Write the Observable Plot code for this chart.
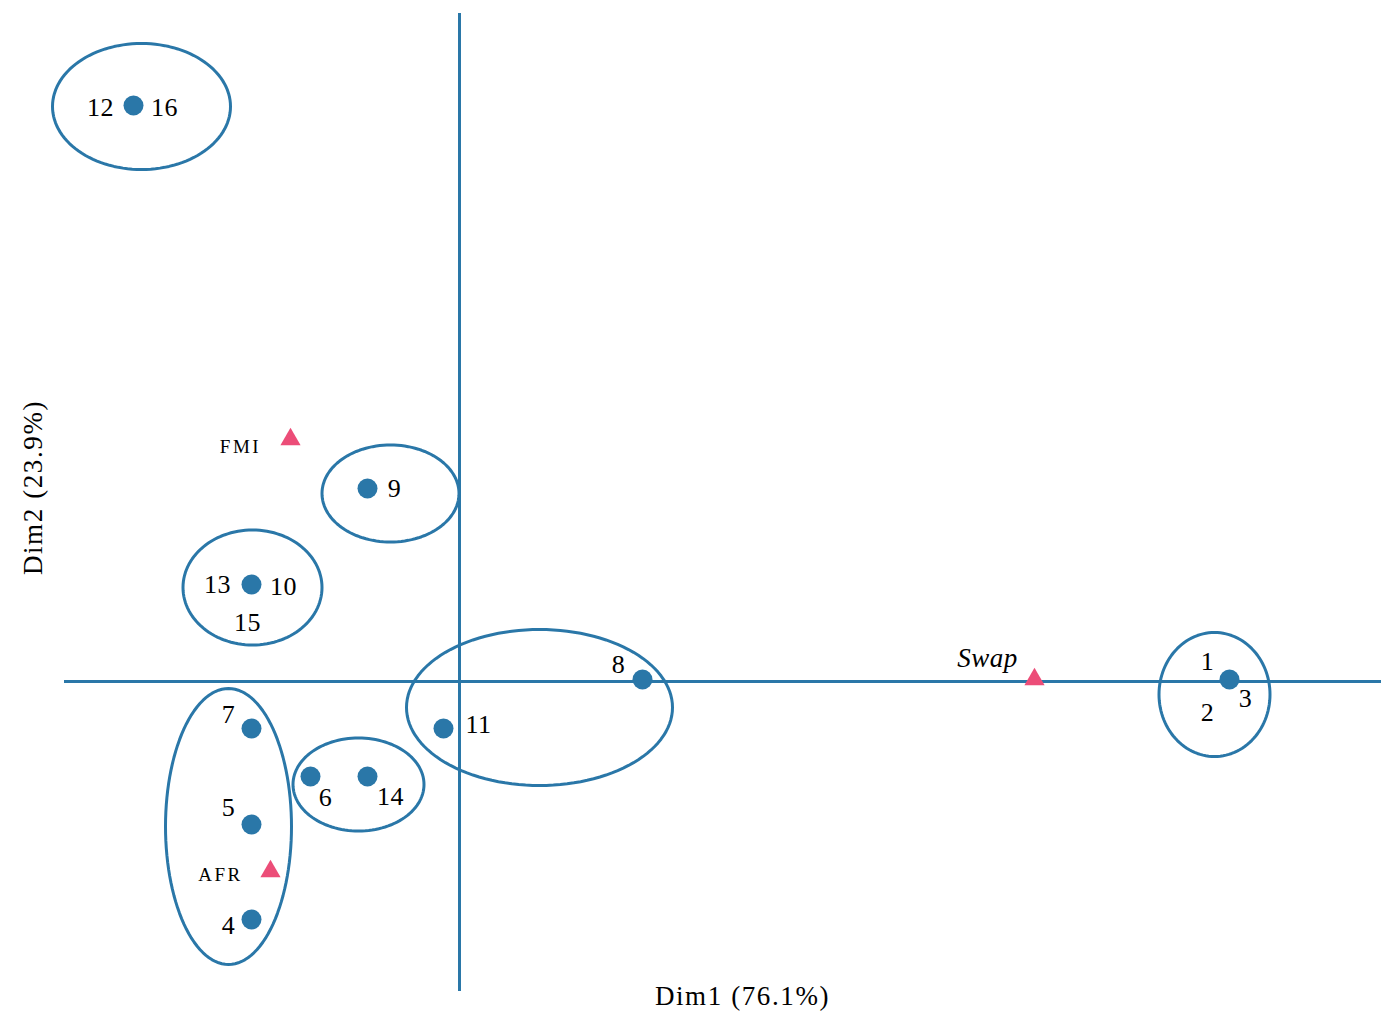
<!DOCTYPE html>
<html>
<head>
<meta charset="utf-8">
<script src="https://cdn.jsdelivr.net/npm/d3@7"></script>
<script src="https://cdn.jsdelivr.net/npm/@observablehq/plot@0.6"></script>
<style>
  html, body { margin: 0; padding: 0; background: #fff; }
  #chart svg { display: block; }
  .axis-title text { letter-spacing: 1.6px; }
  .var-label text { letter-spacing: 2.5px; }
  .obs-label text { letter-spacing: 0.5px; }
</style>
</head>
<body>
<div id="chart"></div>
<script>
// Row points (observations) — coordinates in Dim1 / Dim2 units
const obsNames = ["12/16", "9", "10/13/15", "8", "11", "7", "5", "4", "6", "14", "1/2/3"];
const obsDim1  = [-1.63, -0.46, -1.04, 0.915, -0.08, -1.04, -1.04, -1.04, -0.745, -0.46, 3.85];
const obsDim2  = [2.88, 0.965, 0.485, 0.01, -0.235, -0.235, -0.715, -1.19, -0.475, -0.475, 0.01];

// Column points (variables)
const varNames = ["FMI", "Swap", "AFR"];
const varDim1  = [-0.845, 2.875, -0.945];
const varDim2  = [1.21, 0.01, -0.95];

// Observation labels
const obsLabels  = ["12", "16", "9", "13", "10", "15", "8", "11", "7", "5", "4", "6", "14", "1", "2", "3"];
const obsLabelX  = [-1.795, -1.475, -0.325, -1.21, -0.88, -1.06, 0.795, 0.095, -1.155, -1.155, -1.155, -0.67, -0.345, 3.74, 3.74, 3.93];
const obsLabelY  = [2.87, 2.87, 0.965, 0.485, 0.475, 0.295, 0.085, -0.215, -0.165, -0.63, -1.22, -0.58, -0.575, 0.10, -0.155, -0.085];

// Variable labels
const varLabelX = [-1.095, 2.64, -1.195];
const varLabelY = [1.175, 0.115, -0.965];

// Cluster ellipses: centre and semi-axes in Dim units
const clusterCx = [-1.59, -0.345, -1.035, 0.40, 3.775, -1.155, -0.505];
const clusterCy = [2.875, 0.94, 0.47, -0.13, -0.065, -0.725, -0.515];
const clusterRx = [0.445, 0.3425, 0.3475, 0.665, 0.2775, 0.315, 0.3275];
const clusterRy = [0.315, 0.2425, 0.2875, 0.39, 0.31, 0.69, 0.2325];

// Axis extents and titles
const axisXExtent = [-1.975, 4.61];
const axisYExtent = [-1.55, 3.34];
const xTitle = "Dim1 (76.1%)";
const yTitle = "Dim2 (23.9%)";

const blue = "#2a77a8";
const pink = "#ec4d78";
const font = "'Liberation Serif', 'DejaVu Serif', serif";

const obs = obsNames.map((n, i) => ({name: n, x: obsDim1[i], y: obsDim2[i]}));
const vars = varNames.map((n, i) => ({name: n, x: varDim1[i], y: varDim2[i], lx: varLabelX[i], ly: varLabelY[i]}));
const labels = obsLabels.map((t, i) => ({t, x: obsLabelX[i], y: obsLabelY[i]}));

const ellipsePts = [];
clusterCx.forEach((cx, k) => {
  const N = 120;
  for (let j = 0; j <= N; j++) {
    const a = 2 * Math.PI * j / N;
    ellipsePts.push({k, x: cx + clusterRx[k] * Math.cos(a), y: clusterCy[k] + clusterRy[k] * Math.sin(a)});
  }
});

const W = 1387, H = 1013;
const chart = Plot.plot({
  width: W,
  height: H,
  margin: 0,
  x: {domain: [-2.295, 4.64], axis: null},
  y: {domain: [-1.66, 3.405], axis: null},
  style: {background: "#fff", fontFamily: font},
  marks: [
    Plot.ruleY([0], {x1: axisXExtent[0], x2: axisXExtent[1], stroke: blue, strokeWidth: 3}),
    Plot.ruleX([0], {y1: axisYExtent[0], y2: axisYExtent[1], stroke: blue, strokeWidth: 3}),
    Plot.line(ellipsePts, {x: "x", y: "y", z: "k", stroke: blue, strokeWidth: 3, fill: "none", curve: "linear-closed"}),
    Plot.dot(obs, {x: "x", y: "y", r: 10, fill: blue, stroke: "none"}),
    Plot.dot(vars, {x: "x", y: "y", r: 7.5, symbol: "triangle", fill: pink, stroke: "none"}),
    Plot.text(labels, {x: "x", y: "y", text: "t", fontSize: 26, fill: "#000", className: "obs-label"}),
    Plot.text(vars.filter(d => d.name !== "Swap"), {x: "lx", y: "ly", text: "name", fontSize: 19, fill: "#000", className: "var-label"}),
    Plot.text(vars.filter(d => d.name === "Swap"), {x: "lx", y: "ly", text: "name", fontSize: 27, fontStyle: "italic", fill: "#000", className: "obs-label"}),
    Plot.text([xTitle], {x: 1.415, y: -1.575, text: d => d, fontSize: 27, fill: "#000", className: "axis-title"}),
    Plot.text([yTitle], {x: -2.13, y: 0.97, text: d => d, fontSize: 27, rotate: -90, fill: "#000", className: "axis-title"})
  ]
});
document.getElementById("chart").appendChild(chart);
</script>
</body>
</html>
